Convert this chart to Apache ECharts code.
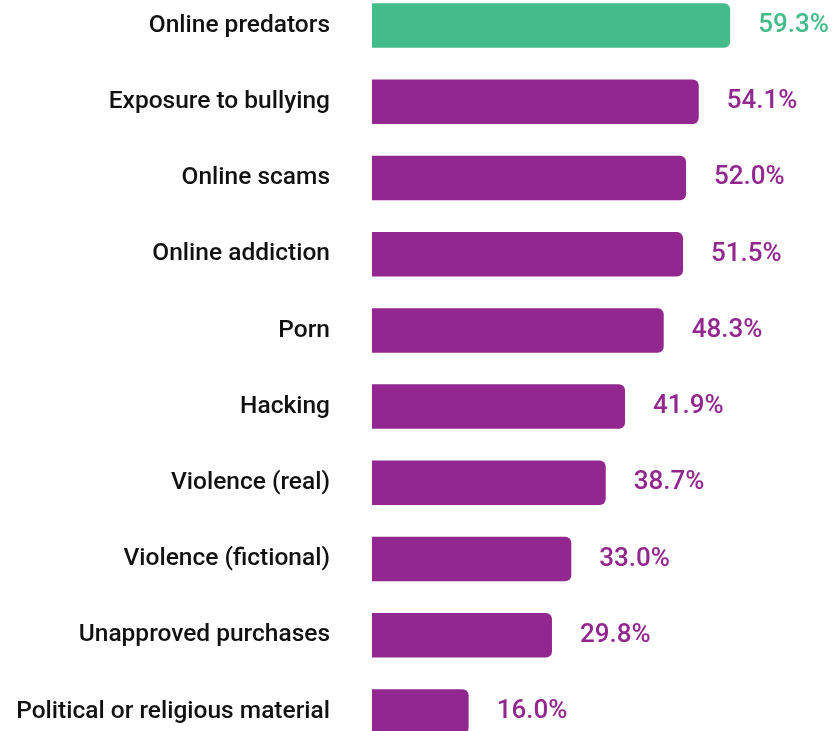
<!DOCTYPE html>
<html>
<head>
<meta charset="utf-8">
<script src="https://cdn.jsdelivr.net/npm/echarts@6/dist/echarts.min.js"></script>
<style>
html,body{margin:0;padding:0;background:#fff;}
#chart{width:832px;height:731px;}
</style>
</head>
<body>
<div id="chart"></div>
<script>
const categories = [
  "Online predators",
  "Exposure to bullying",
  "Online scams",
  "Online addiction",
  "Porn",
  "Hacking",
  "Violence (real)",
  "Violence (fictional)",
  "Unapproved purchases",
  "Political or religious material"
];
const values = [59.3, 54.1, 52.0, 51.5, 48.3, 41.9, 38.7, 33.0, 29.8, 16.0];
const highlightIndex = 0;

const PURPLE = "#92278F";
const GREEN = "#44BC8A";
const FONT = "Roboto";

const chart = echarts.init(document.getElementById("chart"));
chart.setOption({
  animation: false,
  grid: { left: 372, top: 25.5, width: 459, height: 686, containLabel: false },
  xAxis: {
    type: "value", min: 0, max: 76,
    show: false
  },
  yAxis: {
    type: "category",
    inverse: true,
    boundaryGap: false,
    data: categories,
    axisLine: { show: false },
    axisTick: { show: false },
    splitLine: { show: false },
    axisLabel: {
      margin: 42,
      color: "#111111",
      fontFamily: FONT,
      fontWeight: 500,
      fontSize: 24.5
    }
  },
  series: [{
    type: "bar",
    barWidth: 44.5,
    clip: false,
    data: values.map((v, i) => ({
      value: v,
      itemStyle: { color: i === highlightIndex ? GREEN : PURPLE },
      label: { color: i === highlightIndex ? GREEN : PURPLE }
    })),
    itemStyle: { borderRadius: [0, 6, 6, 0] },
    label: {
      show: true,
      position: "right",
      distance: 28,
      fontFamily: FONT,
      fontWeight: 500,
      fontSize: 26,
      formatter: p => p.value.toFixed(1) + "%"
    }
  }]
});
</script>
</body>
</html>
